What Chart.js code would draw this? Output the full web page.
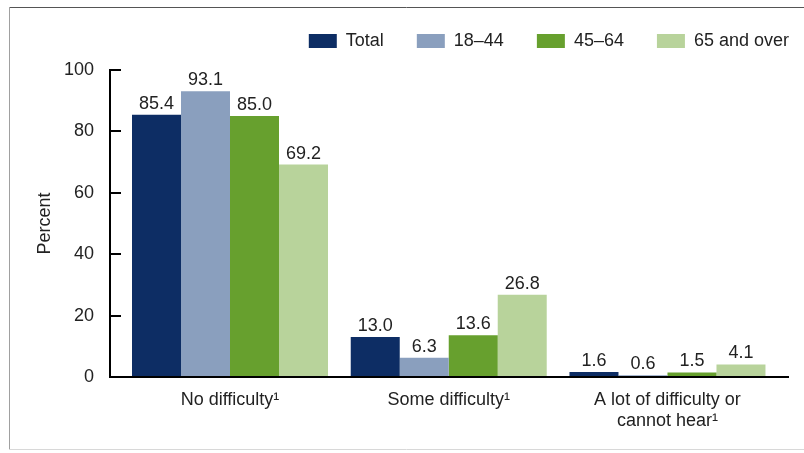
<!DOCTYPE html>
<html>
<head>
<meta charset="utf-8">
<script src="https://cdn.jsdelivr.net/npm/chart.js@4/dist/chart.umd.min.js"></script>
<style>
  html, body { margin: 0; padding: 0; background: #fff; }
  #wrap { position: relative; width: 804px; height: 453px; }
</style>
</head>
<body>
<div id="wrap"><canvas id="c" width="804" height="453"></canvas></div>
<script>
// ---- data ----
const categories = ['No difficulty\u00B9', 'Some difficulty\u00B9', ['A lot of difficulty or', 'cannot hear\u00B9']];
const seriesNames = ['Total', '18\u201344', '45\u201364', '65 and over'];
const total    = [85.4, 13.0, 1.6];
const age18_44 = [93.1, 6.3, 0.6];
const age45_64 = [85.0, 13.6, 1.5];
const age65up  = [69.2, 26.8, 4.1];
const yTicks   = [0, 20, 40, 60, 80, 100];

const colors = ['#0d2d64', '#8a9fbe', '#67a02e', '#b8d39b'];
const seriesValues = [total, age18_44, age45_64, age65up];

Chart.defaults.font.family = "'Liberation Sans', Arial, sans-serif";
Chart.defaults.font.size = 18;
Chart.defaults.color = '#222';

const frame = {
  id: 'frame',
  beforeDraw(chart) {
    const ctx = chart.ctx;
    ctx.save();
    ctx.fillStyle = '#fff';
    ctx.fillRect(0, 0, chart.width, chart.height);
    ctx.lineWidth = 1;
    ctx.strokeStyle = '#555';
    ctx.beginPath(); ctx.moveTo(9, 7.5); ctx.lineTo(804, 7.5); ctx.stroke();
    ctx.strokeStyle = '#a0a0a0';
    ctx.beginPath(); ctx.moveTo(9.5, 7); ctx.lineTo(9.5, 449); ctx.stroke();
    ctx.strokeStyle = '#d8d8d8';
    ctx.beginPath(); ctx.moveTo(9, 449.5); ctx.lineTo(804, 449.5); ctx.stroke();
    ctx.restore();
  }
};

const legendShift = {
  id: 'legendShift',
  afterLayout(chart) {
    const lg = chart.legend;
    if (!lg) return;
    lg.left += 34; lg.right += 34;
    lg.top -= 10; lg.bottom -= 10;
  }
};

const valueLabels = {
  id: 'valueLabels',
  afterDatasetsDraw(chart) {
    const ctx = chart.ctx;
    ctx.save();
    ctx.font = "18px 'Liberation Sans', Arial, sans-serif";
    ctx.fillStyle = '#222';
    ctx.textAlign = 'center';
    ctx.textBaseline = 'alphabetic';
    chart.data.datasets.forEach((ds, di) => {
      const meta = chart.getDatasetMeta(di);
      meta.data.forEach((el, i) => {
        const v = ds.data[i].y;
        ctx.fillText(v.toFixed(1), el.x, el.y - 6);
      });
    });
    ctx.restore();
  }
};

new Chart(document.getElementById('c'), {
  type: 'bar',
  data: {
    datasets: seriesValues.map((vals, si) => ({
      label: seriesNames[si],
      data: vals.map((v, i) => ({ x: i, y: v })),
      backgroundColor: colors[si],
      borderWidth: 0,
      barPercentage: 1.0,
      categoryPercentage: 0.896
    }))
  },
  options: {
    responsive: false,
    animation: false,
    devicePixelRatio: 1,
    layout: { padding: { top: 9, right: 16, left: 0, bottom: 0 } },
    plugins: {
      legend: {
        position: 'top',
        align: 'end',
        labels: { boxWidth: 28, boxHeight: 14, padding: 33, color: '#222', font: { size: 18 } }
      },
      tooltip: { enabled: false }
    },
    scales: {
      x: {
        type: 'linear',
        offset: false,
        bounds: 'data',
        min: -0.5486,
        max: 2.551,
        afterBuildTicks(axis) { axis.ticks = categories.map((c, i) => ({ value: i })); },
        afterFit(scale) { scale.height = 76; },
        grid: { offset: false, drawOnChartArea: false, drawTicks: false },
        border: { display: true, color: '#000', width: 2 },
        ticks: {
          padding: 12,
          autoSkip: false,
          maxRotation: 0,
          color: '#222',
          font: { size: 18 },
          callback(value) { return categories[value]; }
        }
      },
      y: {
        min: 0,
        max: 100,
        afterBuildTicks(axis) { axis.ticks = yTicks.map(v => ({ value: v })); },
        afterFit(scale) { scale.width = 110; },
        grid: { drawOnChartArea: false, drawTicks: true, tickLength: -11, color: '#000', lineWidth: 2 },
        border: { display: true, color: '#000', width: 2 },
        ticks: { padding: 27, color: '#222', font: { size: 18 } },
        title: {
          display: true,
          text: 'Percent',
          color: '#222',
          font: { size: 18 },
          padding: { top: 34, bottom: 0 }
        }
      }
    }
  },
  plugins: [frame, legendShift, valueLabels]
});
</script>
</body>
</html>
